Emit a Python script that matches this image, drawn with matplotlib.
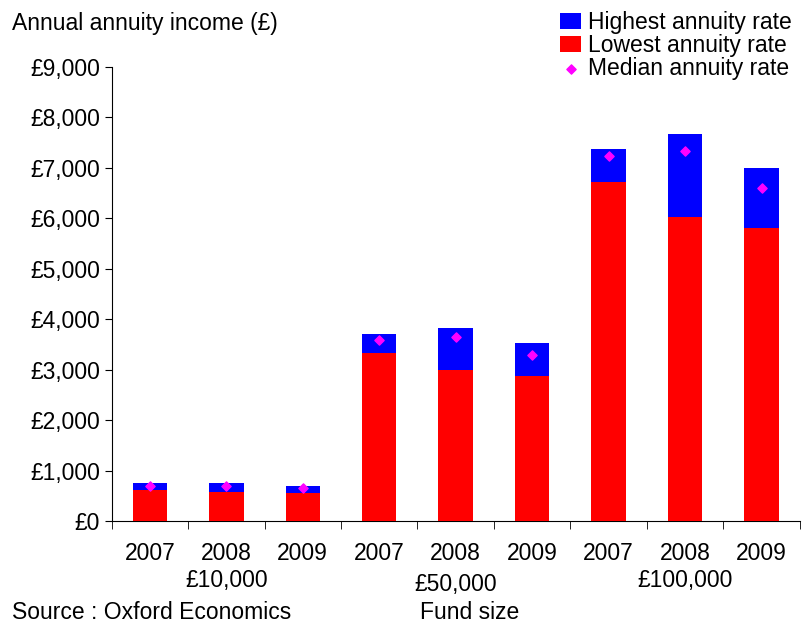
import matplotlib
matplotlib.use("Agg")
import matplotlib.pyplot as plt
import numpy as np

plt.rcParams['font.family'] = ['Liberation Sans', 'DejaVu Sans']
FS = 16.5

years = ["2007", "2008", "2009"] * 3
groups = ["£10,000", "£50,000", "£100,000"]
highest = [750, 750, 700, 3700, 3830, 3530, 7380, 7670, 7000]
lowest = [615, 580, 550, 3330, 3000, 2880, 6720, 6030, 5810]
median = [700, 700, 650, 3590, 3640, 3290, 7240, 7340, 6600]

fig = plt.figure(figsize=(8.03, 6.24), dpi=100)
ax = fig.add_axes([0.139, 0.165, 0.857, 0.728])
x = np.arange(len(years))
h1 = ax.bar(x, highest, width=0.45, color="#0000FF", label="Highest annuity rate", zorder=2)
h2 = ax.bar(x, lowest, width=0.45, color="#FF0000", label="Lowest annuity rate", zorder=3)
h3 = ax.scatter(x, median, marker="D", s=22, color="#FF00FF", label="Median annuity rate", zorder=4)

ax.set_xlim(-0.5, 8.32)
ax.set_ylim(0, 9000)
yt = np.arange(0, 9001, 1000)
ax.set_yticks(yt)
ax.set_yticklabels(["£0"] + [f"£{v:,}" for v in yt[1:]], fontsize=FS)
ax.set_xticks(x)
ax.set_xticklabels(years, fontsize=FS)
ax.tick_params(axis='x', length=0, pad=15)
ax.tick_params(axis='y', direction='out', length=5)
ax.set_xticks(np.arange(-0.5, 8.6, 1), minor=True)
ax.tick_params(axis='x', which='minor', length=6)
for s in ["top", "right"]:
    ax.spines[s].set_visible(False)
ax.text(1, -0.131, groups[0], transform=ax.get_xaxis_transform(), ha="center", va="center", fontsize=FS)
ax.text(4, -0.139, groups[1], transform=ax.get_xaxis_transform(), ha="center", va="center", fontsize=FS)
ax.text(7, -0.131, groups[2], transform=ax.get_xaxis_transform(), ha="center", va="center", fontsize=FS)

fig.text(0.015, 0.962, "Annual annuity income (£)", fontsize=FS, va="center")
fig.text(0.015, 0.018, "Source : Oxford Economics", fontsize=FS, va="center")
fig.text(0.585, 0.018, "Fund size", fontsize=FS, va="center", ha="center")
fig.legend([h1, h2, h3], ["Highest annuity rate", "Lowest annuity rate", "Median annuity rate"],
           loc="upper right", bbox_to_anchor=(1.0, 1.0), frameon=False, fontsize=FS,
           handlelength=0.9, handletextpad=0.3, labelspacing=0.0, borderaxespad=0.1)
fig.savefig("out.png", dpi=100)
